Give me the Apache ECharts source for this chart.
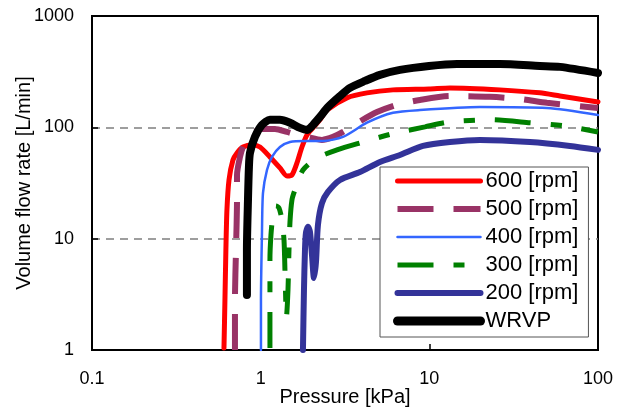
<!DOCTYPE html>
<html>
<head>
<meta charset="utf-8">
<script src="https://cdn.jsdelivr.net/npm/echarts@6/dist/echarts.min.js"></script>
<style>
  html, body { margin: 0; padding: 0; background: #fff; }
  #chart { width: 617px; height: 412px; }
</style>
</head>
<body>
<div id="chart"></div>
<script>
// pressure [kPa] / flow [L/min]
const p600 = [0.606, 0.614, 0.622, 0.631, 0.649, 0.685, 0.724, 0.785, 0.900, 0.991, 1.135, 1.301, 1.432, 1.533, 1.641, 1.757, 1.882, 2.042, 2.246, 2.472, 3.248, 4.267, 6.085, 9.95, 13.25, 26.2, 45.2, 59.5, 100];
const q600 = [1.04, 2.81, 7.91, 18.1, 33.7, 50.9, 58.9, 66.6, 69.5, 66.6, 54.2, 43.2, 36.6, 37.4, 47.9, 66.6, 85.5, 98.8, 117, 143, 184, 204, 217, 221, 226, 217, 204, 191, 169];

const p500 = [0.704, 0.704, 0.714, 0.724, 0.724, 0.754, 0.785, 0.841, 0.900, 1.018, 1.216, 1.432, 1.641, 1.882, 2.309, 2.683, 3.075, 3.878, 4.891, 6.43, 8.80, 13.25, 22.9, 34.4, 49.8, 100];
const q500 = [1.0, 2.81, 7.91, 22.3, 37.4, 54.2, 66.6, 80.3, 89.1, 96.8, 96.8, 90.9, 85.5, 82.0, 77.1, 82.0, 90.9, 113, 137, 159, 176, 191, 188, 180, 166, 149];

const p400 = [1.004, 1.004, 1.018, 1.032, 1.090, 1.167, 1.301, 1.492, 1.831, 2.341, 3.075, 4.267, 6.085, 8.80, 19.95, 49.8, 100];
const q400 = [1.0, 2.81, 11.3, 25.7, 41.4, 54.2, 66.6, 73.9, 75.5, 75.5, 82.0, 110, 135, 143, 152, 149, 129];

const p300 = [1.135, 1.135, 1.135, 1.151, 1.183, 1.232, 1.284, 1.338, 1.375, 1.393, 1.413, 1.420, 1.452, 1.472, 1.492, 1.533, 1.597, 1.781, 2.157, 2.834, 3.878, 6.00, 9.42, 13.25, 22.9, 39.5, 63.6, 100];
const q300 = [1.04, 2.81, 6.44, 10.8, 16.3, 19.7, 18.9, 14.7, 9.73, 5.23, 2.29, 1.94, 3.46, 7.91, 14.1, 22.3, 27.4, 41.4, 53.1, 62.7, 72.4, 87.3, 101, 112, 117, 110, 103, 90.9];

const p200 = [1.781, 1.806, 1.831, 1.856, 1.908, 1.960, 2.015, 2.070, 2.128, 2.186, 2.309, 2.506, 2.953, 3.878, 5.096, 6.694, 9.17, 13.25, 19.95, 39.5, 68.1, 100];
const q200 = [1.0, 3.46, 7.91, 11.3, 12.8, 11.5, 7.14, 4.43, 6.17, 13.3, 20.9, 26.3, 33.7, 39.7, 48.9, 56.5, 68.1, 73.9, 77.1, 73.9, 68.1, 62.7];

const pWRVP = [0.829, 0.829, 0.841, 0.852, 0.864, 0.925, 1.018, 1.135, 1.301, 1.492, 1.710, 1.882, 2.042, 2.246, 2.506, 2.953, 3.383, 4.152, 5.096, 6.694, 9.95, 14.58, 26.2, 45.2, 59.5, 100];
const qWRVP = [3.12, 7.91, 22.3, 44.1, 58.9, 82.0, 105, 117, 117, 110, 98.8, 94.8, 105, 124, 152, 191, 226, 261, 296, 328, 356, 371, 371, 356, 349, 308];

const names = ['600 [rpm]', '500 [rpm]', '400 [rpm]', '300 [rpm]', '200 [rpm]', 'WRVP'];
const xTicks = [0.1, 1, 10, 100];
const yTicks = [1, 10, 100, 1000];

const font = '"Liberation Sans", Arial, sans-serif';
const chart = echarts.init(document.getElementById('chart'), null, { renderer: 'canvas' });

const styles = [
  { color: '#ff0000', width: 5, type: 'solid', cap: 'round' },
  { color: '#993366', width: 6, type: [36, 20], cap: 'butt' },
  { color: '#3366ff', width: 2.5, type: 'solid', cap: 'round' },
  { color: '#008000', width: 5, type: [36, 20, 11, 20], cap: 'butt' },
  { color: '#333399', width: 6, type: 'solid', cap: 'round' },
  { color: '#000000', width: 8, type: 'solid', cap: 'round' },
];
const xs = [p600, p500, p400, p300, p200, pWRVP];
const ys = [q600, q500, q400, q300, q200, qWRVP];

const series = names.map((name, k) => ({
  name,
  type: 'line',
  data: xs[k].map((p, i) => [p, ys[k][i]]),
  symbol: 'none',
  smooth: 0.25,
  lineStyle: styles[k],
  itemStyle: { color: styles[k].color },
  z: 2 + k,
}));

const option = {
  animation: false,
  grid: {
    left: 92, right: 19, top: 16, bottom: 62,
    outerBoundsMode: 'none', containLabel: false,
    show: true, borderColor: '#000', borderWidth: 2,
  },
  legend: {
    left: 380, top: 167,
    orient: 'vertical',
    padding: [3, 10, 5, 13],
    itemWidth: 83, itemHeight: 20, itemGap: 6,
    backgroundColor: '#fff',
    borderColor: '#555', borderWidth: 1,
    itemStyle: { opacity: 0 },
    textStyle: { fontFamily: font, fontSize: 22, lineHeight: 20, color: '#000' },
    data: names.map((name, k) => ({
      name,
      lineStyle: {
        color: styles[k].color, width: k === 5 ? 9 : styles[k].width,
        type: styles[k].type, cap: styles[k].cap,
      },
    })),
  },
  xAxis: {
    type: 'log', logBase: 10, min: xTicks[0], max: xTicks[xTicks.length - 1],
    name: 'Pressure [kPa]', nameLocation: 'middle', nameGap: 37, nameMoveOverlap: false,
    nameTextStyle: { fontFamily: font, fontSize: 20, color: '#000' },
    axisLine: { lineStyle: { color: '#000', width: 2 } },
    axisTick: { inside: true, length: 6, lineStyle: { color: '#000', width: 1.5 } },
    minorTick: { show: false },
    axisLabel: { fontFamily: font, fontSize: 18, color: '#000', margin: 20, formatter: v => String(v) },
    splitLine: { show: false },
  },
  yAxis: {
    type: 'log', logBase: 10, min: yTicks[0], max: yTicks[yTicks.length - 1],
    name: 'Volume flow rate [L/min]', nameLocation: 'middle', nameGap: 58, nameMoveOverlap: false,
    nameTextStyle: { fontFamily: font, fontSize: 20, color: '#000' },
    axisLine: { lineStyle: { color: '#000', width: 2 } },
    axisTick: { inside: true, length: 6, lineStyle: { color: '#000', width: 1.5 } },
    axisLabel: { fontFamily: font, fontSize: 18, color: '#000', margin: 18, formatter: v => String(v) },
    splitLine: {
      show: true, showMinLine: false, showMaxLine: false,
      lineStyle: { color: '#7f7f7f', width: 1.5, type: [8, 6] },
    },
  },
  series,
};

chart.setOption(option);
</script>
</body>
</html>
